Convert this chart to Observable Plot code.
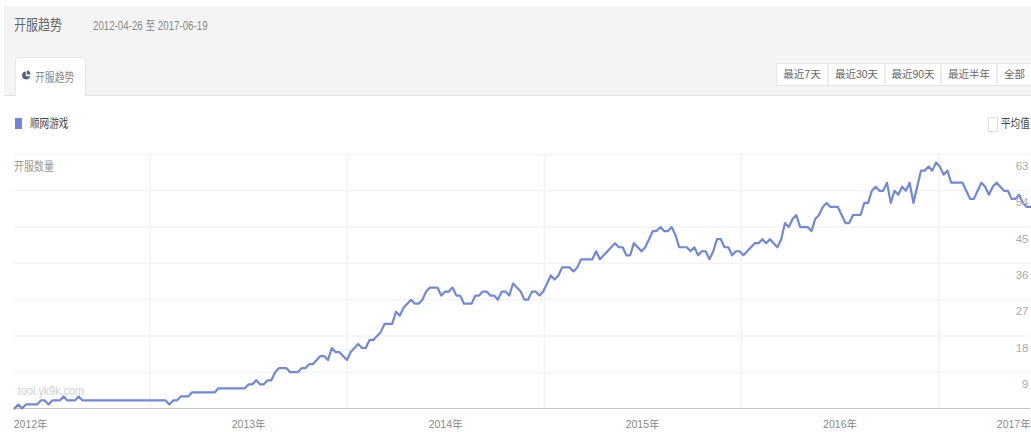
<!DOCTYPE html>
<html lang="zh">
<head>
<meta charset="utf-8">
<title>开服趋势</title>
<script src="https://cdn.jsdelivr.net/npm/d3@7"></script>
<script src="https://cdn.jsdelivr.net/npm/@observablehq/plot@0.6"></script>
<style>
  html, body { margin: 0; padding: 0; background: #fff; }
  body { width: 1031px; height: 432px; position: relative; overflow: hidden;
         font-family: "Liberation Sans", "Noto Sans CJK SC", sans-serif; }
  .abs { position: absolute; white-space: nowrap; }
  .squeeze { transform-origin: left center; }
  #band { left: 4px; top: 6px; width: 1027px; height: 89px; background: #f4f4f4; border-bottom: 1px solid #e4e4e4; }
  #title { left: 14px; top: 15px; font-size: 15px; line-height: 20px; color: #666; transform: scaleX(.8); }
  #range { left: 93px; top: 18px; font-size: 12px; line-height: 16px; color: #888; transform: scaleX(.81); }
  #tab { left: 15px; top: 57px; width: 71px; height: 39px; background: #fff; border: 1px solid #e6e6e6;
         border-bottom: none; border-radius: 4px 4px 0 0; box-sizing: border-box; }
  #tabIcon { left: 22px; top: 70px; }
  #tabText { left: 35px; top: 70px; font-size: 12px; line-height: 16px; color: #888; transform: scaleX(.82); }
  #buttons { left: 776px; top: 63px; height: 23px; display: flex; background: #fff; border: 1px solid #e6e6e6; box-sizing: border-box; }
  #buttons span { display: block; height: 21px; line-height: 21px; font-size: 10.5px; color: #666; text-align: center; box-sizing: border-box;
                  border-left: 2px solid #ececec; }
  #buttons span:first-child { border-left: none; }
  #swatch { left: 15px; top: 118px; width: 7px; height: 11px; background: #6f85d8; }
  #legend { left: 30px; top: 116px; font-size: 12px; line-height: 16px; color: #444; transform: scaleX(.8); }
  #check { left: 988px; top: 117px; width: 10px; height: 15px; border: 1px solid #e2e2e2; border-bottom-color: #cfdcf2; box-sizing: border-box; background: #fff; }
  #avg { left: 1001px; top: 116px; font-size: 12px; line-height: 16px; color: #444; transform: scaleX(.8); }
  #yTitle { left: 14px; top: 159px; font-size: 12px; line-height: 16px; color: #999; transform: scaleX(.83); }
  #mark { left: 18px; top: 384px; font-size: 12px; line-height: 14px; color: #cfcfcf; transform: scaleX(.9); }
  #chart { left: 0; top: 140px; }
  #chart svg { display: block; }
</style>
</head>
<body>
<div id="band" class="abs"></div>
<div id="title" class="abs squeeze">开服趋势</div>
<div id="range" class="abs squeeze">2012-04-26 至 2017-06-19</div>
<div id="tab" class="abs"></div>
<svg id="tabIcon" class="abs" width="9" height="11" viewBox="0 0 9 11">
  <path d="M3.8 1.4 A4 4 0 1 0 8 6.2 L3.8 6.2 Z" fill="#56607a"/>
  <path d="M4.8 .6 A3.8 3.8 0 0 1 8.4 4.6 L4.8 4.6 Z" fill="#56607a"/>
</svg>
<div id="tabText" class="abs squeeze">开服趋势</div>
<div id="buttons" class="abs"></div>
<div id="swatch" class="abs"></div>
<div id="legend" class="abs squeeze">顺网游戏</div>
<div id="check" class="abs"></div>
<div id="avg" class="abs squeeze">平均值</div>
<div id="chart" class="abs"></div>
<div id="yTitle" class="abs squeeze">开服数量</div>
<div id="mark" class="abs squeeze">tool.yk9k.com</div>

<script>
// Weekly count of game server openings, 顺网游戏.
const openings = [
  0,1,0,1,1,1,1,2,2,1,2,2,2,3,2,2,2,3,2,2,
  2,2,2,2,2,2,2,2,2,2,2,2,2,2,2,2,2,2,2,2,
  2,1,2,2,3,3,3,4,4,4,4,4,4,4,5,5,5,5,5,5,
  5,5,6,6,7,6,6,7,7,9,10,10,10,9,9,9,10,10,11,11,
  12,13,13,12,15,14,14,13,12,14,15,16,15,15,17,17,18,19,21,21,
  21,24,23,25,26,27,26,26,27,29,30,30,30,28,29,29,30,28,28,26,
  26,26,28,28,29,29,28,28,27,29,29,28,31,30,29,27,27,29,29,28,
  29,31,33,32,33,35,35,35,34,35,37,37,37,37,39,37,38,39,40,41,
  40,40,38,38,41,40,39,40,42,44,44,45,44,44,45,43,40,40,40,39,
  40,38,39,39,37,39,42,42,40,40,38,39,39,38,39,40,41,41,42,41,
  42,41,40,42,46,45,47,48,45,45,45,44,47,48,50,51,50,50,50,48,
  46,46,48,48,48,51,51,54,55,54,54,56,51,54,53,55,54,56,51,55,
  59,59,60,59,61,60,58,59,56,56,56,56,54,52,52,54,56,55,53,55,
  56,55,54,54,52,52,53,51,50,50
];
const firstWeek = new Date(Date.UTC(2012, 3, 24));
const lastDay = new Date(Date.UTC(2017, 5, 20));

const yTicks = [9, 18, 27, 36, 45, 54, 63];
const yearStarts = [2013, 2014, 2015, 2016, 2017].map(y => new Date(Date.UTC(y, 0, 1)));
const yearLabelDates = [
  new Date(Date.UTC(2012, 4, 24)), new Date(Date.UTC(2013, 6, 2)), new Date(Date.UTC(2014, 6, 2)),
  new Date(Date.UTC(2015, 6, 2)), new Date(Date.UTC(2016, 6, 2)), new Date(Date.UTC(2017, 4, 20))
];
const rangeButtons = ["最近7天", "最近30天", "最近90天", "最近半年", "全部"];
const buttonWidths = [50, 57, 56, 56, 35];

const seriesColor = "#7088dc";
const gridColor = "#f3f3f3";

const weeks = openings.map((count, i) => ({date: d3.utcDay.offset(firstWeek, 7 * i), count}));

const buttons = document.getElementById("buttons");
rangeButtons.forEach((label, i) => {
  const b = document.createElement("span");
  b.textContent = label;
  b.style.width = buttonWidths[i] + "px";
  buttons.appendChild(b);
});

const chart = Plot.plot({
  width: 1031,
  height: 292,
  marginTop: 14,
  marginBottom: 24,
  marginLeft: 14,
  marginRight: 1,
  style: {background: "transparent", fontFamily: '"Liberation Sans","Noto Sans CJK SC",sans-serif'},
  x: {type: "utc", domain: [firstWeek, lastDay]},
  y: {domain: [0, 63]},
  marks: [
    Plot.ruleY(yTicks, {stroke: gridColor, strokeWidth: 1.5}),
    Plot.ruleX(yearStarts, {stroke: gridColor, strokeWidth: 1.5}),
    Plot.ruleY([0], {stroke: "#c4c4c4", strokeWidth: 1}),
    Plot.line(weeks, {x: "date", y: "count", stroke: seriesColor, strokeWidth: 2.2, strokeLinejoin: "round", clip: false}),
    Plot.axisY({
      anchor: "right", ticks: yTicks, tickSize: 0, tickPadding: 0, label: null,
      textAnchor: "end", dx: -2, dy: 12, fontSize: 11.5, fill: "#aaa"
    }),
    Plot.axisX({
      anchor: "bottom", ticks: yearLabelDates, tickSize: 0, tickPadding: 12, label: null,
      tickFormat: d => `${d.getUTCFullYear()}年`, fontSize: 10.5, fill: "#888"
    })
  ]
});
document.getElementById("chart").appendChild(chart);
</script>
</body>
</html>
